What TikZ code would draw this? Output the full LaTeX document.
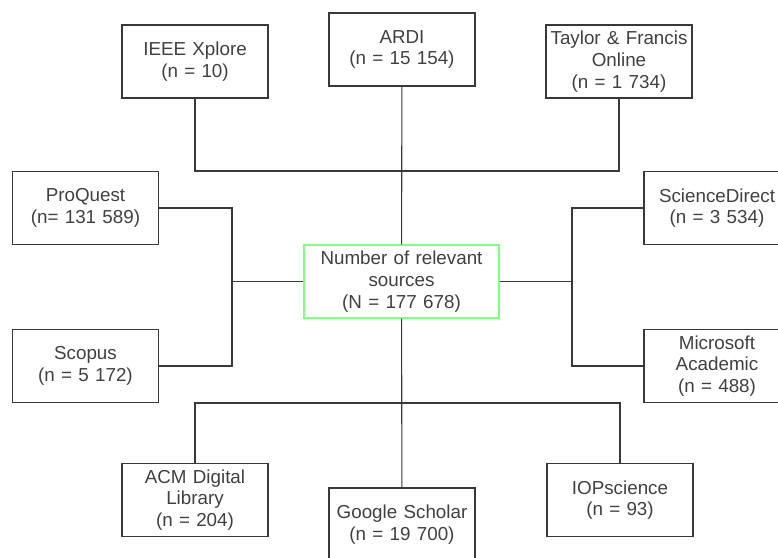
\documentclass[tikz,border=0pt]{standalone}
\usepackage{fontspec}
\setmainfont{Liberation Sans}
\definecolor{linegray}{rgb}{0.22,0.22,0.22}
\definecolor{textgray}{rgb}{0.25,0.25,0.25}
\definecolor{boxgreen}{rgb}{0.5,1.0,0.5}
\begin{document}
\begin{tikzpicture}[x=1pt,y=-1pt,line width=1.1pt,
  srcbox/.style={rectangle,draw=linegray,minimum width=146pt,minimum height=73pt,
    inner sep=0pt,text width=144pt,align=center,text=textgray,
    font=\fontsize{18.8}{21.7}\selectfont},
  totalbox/.style={srcbox,draw=boxgreen,minimum width=195pt,text width=190pt},
  link/.style={draw=linegray}]
\useasboundingbox (0,0) rectangle (778,557);
% databases above
\node[srcbox] (ieee) at (195,61.5) {IEEE Xplore\\(n = 10)};
\node[srcbox] (ardi) at (402,49.5) {ARDI\\(n = 15 154)};
\node[srcbox] (tfo) at (619,61.5) {Taylor \& Francis\\Online\\(n = 1 734)};
% databases left and right
\node[srcbox] (proquest) at (85.5,208) {ProQuest\\(n= 131 589)};
\node[srcbox] (scopus) at (85.5,366) {Scopus\\(n = 5 172)};
\node[srcbox] (scidir) at (717,208) {ScienceDirect\\(n = 3 534)};
\node[srcbox] (msa) at (717,366) {Microsoft\\Academic\\(n = 488)};
% total
\node[totalbox] (total) at (401.5,281.5) {Number of relevant\\sources\\(N = 177 678)};
% databases below
\node[srcbox] (acm) at (195,500) {ACM Digital\\Library\\(n = 204)};
\node[srcbox] (gs) at (402,524.5) {Google Scholar\\(n = 19 700)};
\node[srcbox] (iop) at (620,500) {IOPscience\\(n = 93)};
% junctions
\coordinate (topbus) at (402,171);
\coordinate (botbus) at (402,403);
\coordinate (lbus) at (232,281.5);
\coordinate (rbus) at (572,281.5);
% connectors
\draw[link] (ieee.south) |- (tfo.south |- topbus) -- (tfo.south);
\draw[link] (ardi) -- (total);
\draw[link] (proquest.east) -| (lbus) |- (scopus.east);
\draw[link] (lbus) -- (total.west);
\draw[link] (scidir.west) -| (rbus) |- (msa.west);
\draw[link] (rbus) -- (total.east);
\draw[link] (total) -- (gs);
\draw[link] (acm.north) |- (iop.north |- botbus) -- (iop.north);
\end{tikzpicture}
\end{document}
